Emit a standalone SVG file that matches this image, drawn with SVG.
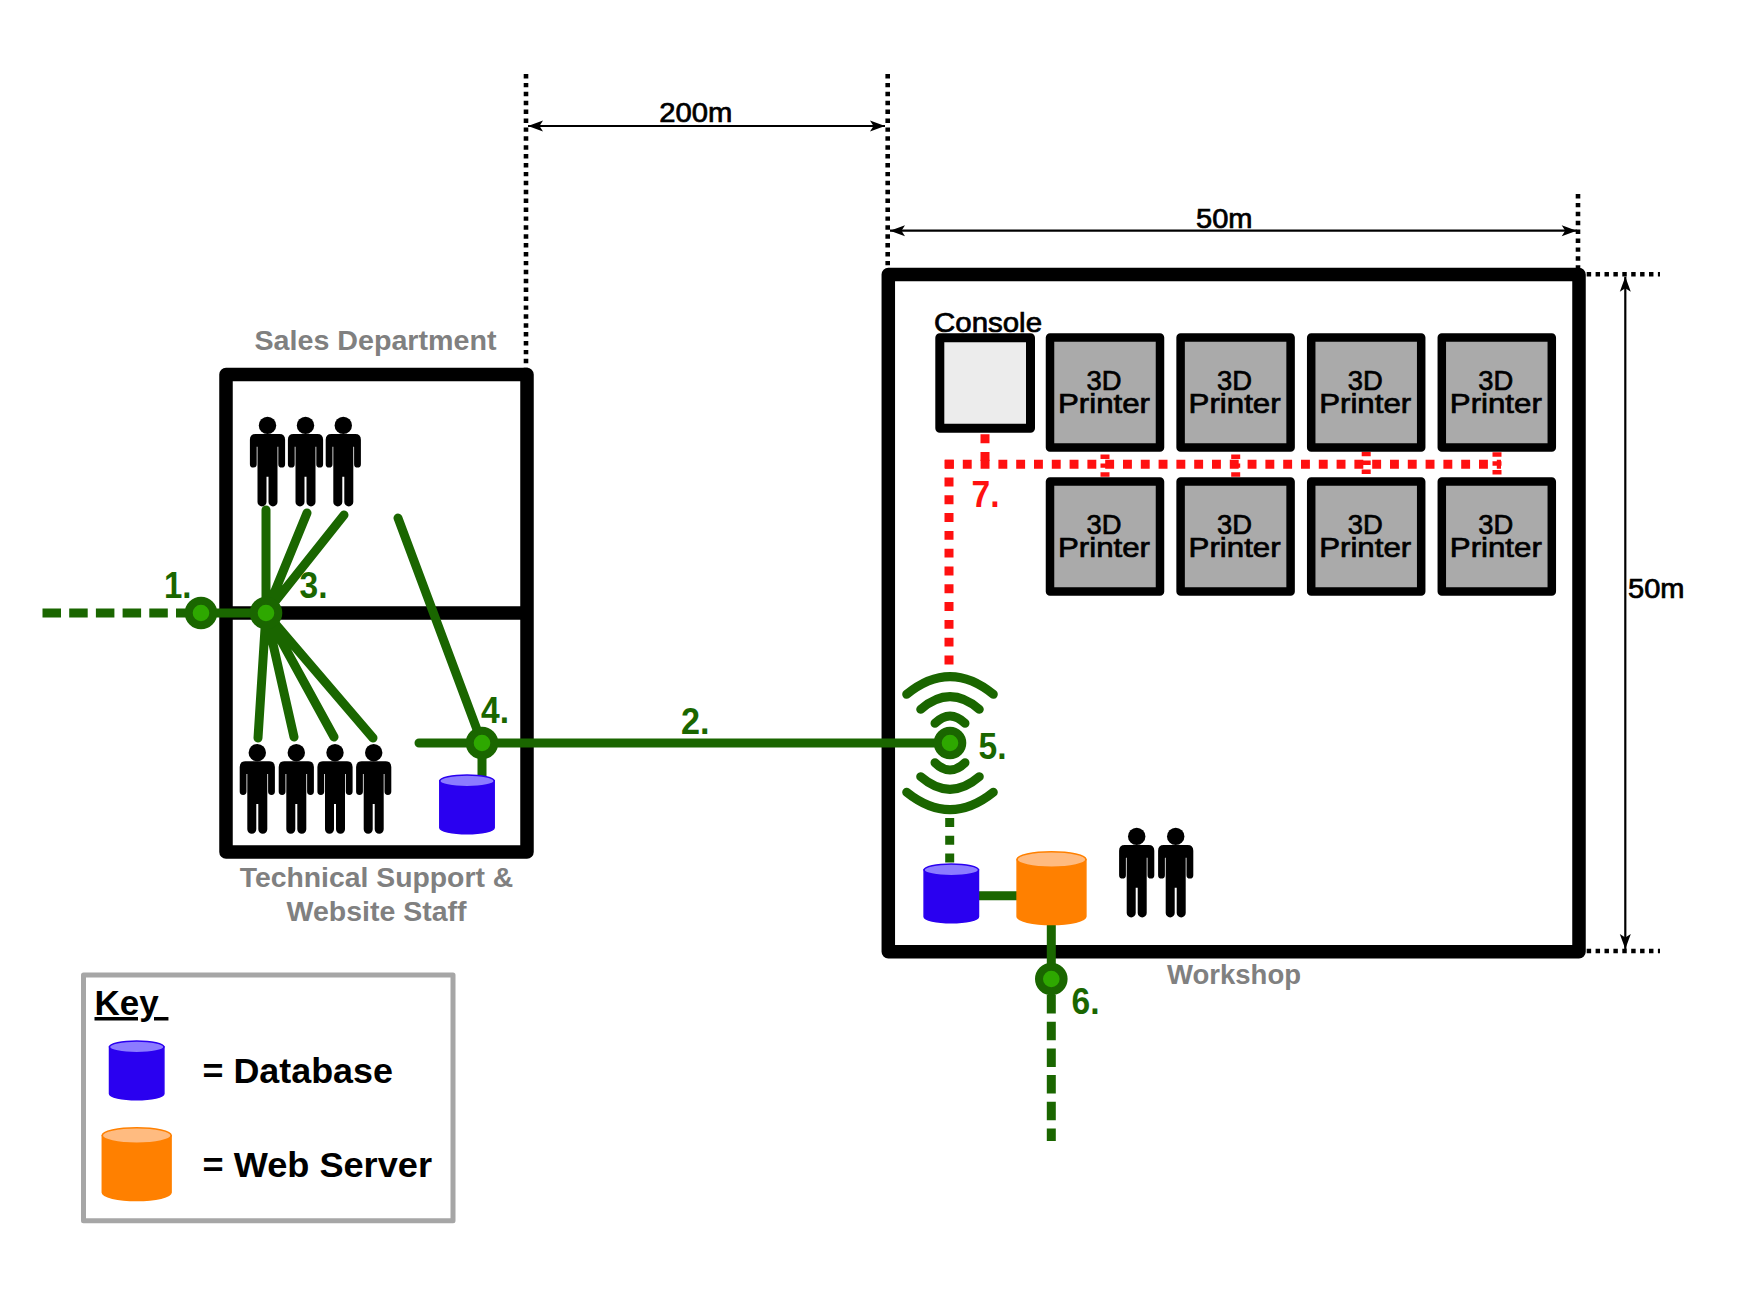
<svg xmlns="http://www.w3.org/2000/svg" xmlns:xlink="http://www.w3.org/1999/xlink" width="1755" height="1314" viewBox="0 0 1755 1314">
<style>
text{font-family:"Liberation Sans",Arial,sans-serif}
.wall{fill:none;stroke:#000;stroke-width:13.5;stroke-linejoin:round}
.pr{fill:#aaa;stroke:#000;stroke-width:8.5;stroke-linejoin:round}
.g{fill:none;stroke:#1a6600;stroke-width:9;stroke-linecap:round}
.gb{fill:none;stroke:#1a6600;stroke-width:9}
.gd{fill:none;stroke:#1a6600;stroke-width:9;stroke-dasharray:18.5 8.2}
.gs{fill:none;stroke:#1a6600;stroke-width:9;stroke-dasharray:8.9 8.9}
.r{fill:none;stroke:#ff1010;stroke-width:9;stroke-dasharray:8.9 8.9}
.rb{fill:none;stroke:#ff1010;stroke-width:9;stroke-dasharray:4.45 4.45}
.dot{fill:none;stroke:#000;stroke-width:4.6;stroke-dasharray:4.45 4.45}
.dim{fill:none;stroke:#000;stroke-width:2.2;marker-start:url(#ah);marker-end:url(#ah)}
.c{fill:#2ea800;stroke:#1a6600;stroke-width:8}
.num{fill:#1a6600;font-size:37px;font-weight:bold}
.gl{fill:#808080;font-size:28px;font-weight:bold;text-anchor:middle}
.bk{fill:#000;font-size:27px;stroke:#000;stroke-width:.7}
.p3{fill:#000;font-size:27px;stroke:#000;stroke-width:.7;text-anchor:middle}
.kt{fill:#000;font-size:35px;font-weight:bold}
</style>
<defs>
<marker id="ah" viewBox="-16 -7 17 14" refX="0" refY="0" markerWidth="17" markerHeight="14" markerUnits="userSpaceOnUse" orient="auto-start-reverse"><path d="M-15,-5.5L0,0L-15,5.5L-11.5,0Z" fill="#000"/></marker>
<symbol id="person" overflow="visible" viewBox="0 0 1 1" width="1" height="1">
<circle cx="0" cy="8.7" r="8.7" fill="#000"/>
<path fill="#000" d="M-12,17.3H12Q17.6,17.3 17.6,23V47.5A3.4,3.4 0 0 1 10.8,47.5V30H10V85.2A4.5,4.5 0 0 1 1,85.2V60H-1V85.2A4.5,4.5 0 0 1 -10,85.2V30H-10.8V47.5A3.4,3.4 0 0 1 -17.6,47.5V23Q-17.6,17.3 -12,17.3Z"/>
</symbol>
<g id="cylB"><path d="M0.8,6.5V53.5A27.2,6 0 0 0 55.2,53.5V6.5Z" fill="#2a00f0" stroke="#2a00f0" stroke-width="1.5"/><ellipse cx="28" cy="6.6" rx="27.2" ry="5.9" fill="#8c7cff" stroke="#2a00f0" stroke-width="1.5"/></g>
<g id="cylO"><path d="M0.8,8.5V65.5A34.4,8 0 0 0 69.6,65.5V8.5Z" fill="#ff8000" stroke="#ff8000" stroke-width="1.5"/><ellipse cx="35.2" cy="8.5" rx="34.4" ry="7.7" fill="#ffbb80" stroke="#ff8000" stroke-width="1.5"/></g>
</defs>
<rect width="1755" height="1314" fill="#fff"/>

<g id="sales-building">
<path class="wall" d="M226,374.5H527V852H226ZM226,613H527"/>
</g>
<g id="workshop-building">
<rect class="wall" x="888.3" y="274.6" width="690.7" height="677.2"/>
</g>

<g id="connectors">
<path class="dot" d="M526,74V368M887.7,74V268M1578,194V268M1586.7,274.3H1660M1586.7,951H1660"/>
<path class="dim" d="M528,126H885"/>
<path class="dim" d="M890,230.7H1576.7"/>
<path class="dim" d="M1625.3,276.7V949"/>
<path class="r" d="M945,464.3H1501"/>
<path class="r" d="M949,459.7V665"/>
<path class="r" d="M985,434.3V466"/>
<path class="rb" d="M1105,454.5V477M1235.7,454.5V477"/>
<path class="rb" d="M1366.2,451.7V477M1497,452.3V476"/>
<path class="gd" d="M42.5,613H190"/>
<path class="gb" d="M190,613H266"/>
<path class="g" d="M266,613V510M266,613L307,513M266,613L344,515M266,613L258,738M266,613L294,737M266,613L334,737M266,613L373,738"/>
<path class="g" d="M398,518L482,743M419,743H950M482,743V780"/>
<path class="gs" d="M949.7,818V866"/>
<path class="gb" d="M978,895.7H1018M1051.3,920V979"/>
<path class="gd" d="M1051.3,995V1141"/>
<path class="g" d="M906.7,694.3Q950,659 993.3,694.3M920.7,709.3Q950,684 979.3,709.3M935,723.3Q950,708.7 965,723.3M935,762.7Q950,777.3 965,762.7M920.7,776.7Q950,802 979.3,776.7M906.7,792.3Q950,827 993.3,792.3"/>
</g>

<g id="console">
<rect x="939.8" y="337.8" width="90.7" height="90.4" fill="#ececec" stroke="#000" stroke-width="9" stroke-linejoin="round"/>
<text class="bk" x="934" y="331.7" textLength="108" lengthAdjust="spacingAndGlyphs">Console</text>
</g>
<g id="printer-1"><rect class="pr" x="1050" y="337.5" width="110" height="110"/><text class="p3" x="1104" y="390" textLength="35" lengthAdjust="spacingAndGlyphs">3D</text><text class="p3" x="1104" y="413" textLength="92" lengthAdjust="spacingAndGlyphs">Printer</text></g>
<g id="printer-2"><rect class="pr" x="1180.6" y="337.5" width="110" height="110"/><text class="p3" x="1234.6" y="390" textLength="35" lengthAdjust="spacingAndGlyphs">3D</text><text class="p3" x="1234.6" y="413" textLength="92" lengthAdjust="spacingAndGlyphs">Printer</text></g>
<g id="printer-3"><rect class="pr" x="1311.2" y="337.5" width="110" height="110"/><text class="p3" x="1365.2" y="390" textLength="35" lengthAdjust="spacingAndGlyphs">3D</text><text class="p3" x="1365.2" y="413" textLength="92" lengthAdjust="spacingAndGlyphs">Printer</text></g>
<g id="printer-4"><rect class="pr" x="1441.8" y="337.5" width="110" height="110"/><text class="p3" x="1495.8" y="390" textLength="35" lengthAdjust="spacingAndGlyphs">3D</text><text class="p3" x="1495.8" y="413" textLength="92" lengthAdjust="spacingAndGlyphs">Printer</text></g>
<g id="printer-5"><rect class="pr" x="1050" y="481.5" width="110" height="110"/><text class="p3" x="1104" y="534" textLength="35" lengthAdjust="spacingAndGlyphs">3D</text><text class="p3" x="1104" y="557" textLength="92" lengthAdjust="spacingAndGlyphs">Printer</text></g>
<g id="printer-6"><rect class="pr" x="1180.6" y="481.5" width="110" height="110"/><text class="p3" x="1234.6" y="534" textLength="35" lengthAdjust="spacingAndGlyphs">3D</text><text class="p3" x="1234.6" y="557" textLength="92" lengthAdjust="spacingAndGlyphs">Printer</text></g>
<g id="printer-7"><rect class="pr" x="1311.2" y="481.5" width="110" height="110"/><text class="p3" x="1365.2" y="534" textLength="35" lengthAdjust="spacingAndGlyphs">3D</text><text class="p3" x="1365.2" y="557" textLength="92" lengthAdjust="spacingAndGlyphs">Printer</text></g>
<g id="printer-8"><rect class="pr" x="1441.8" y="481.5" width="110" height="110"/><text class="p3" x="1495.8" y="534" textLength="35" lengthAdjust="spacingAndGlyphs">3D</text><text class="p3" x="1495.8" y="557" textLength="92" lengthAdjust="spacingAndGlyphs">Printer</text></g>

<g id="sales-staff"><use href="#person" x="267.5" y="416.7"/><use href="#person" x="305.5" y="416.7"/><use href="#person" x="343.3" y="416.7"/></g>
<g id="tech-staff"><use href="#person" x="257.3" y="744"/><use href="#person" x="296.3" y="744"/><use href="#person" x="335" y="744"/><use href="#person" x="373.7" y="744"/></g>
<g id="workshop-staff"><use href="#person" x="1136.7" y="827.7"/><use href="#person" x="1175.7" y="827.7"/></g>

<g id="db-sales"><use href="#cylB" x="439" y="774.3"/></g>
<g id="db-workshop"><use href="#cylB" x="923.3" y="863.3"/></g>
<g id="web-server"><use href="#cylO" x="1016.3" y="851"/></g>

<g id="junction-1"><circle class="c" cx="201" cy="613" r="12.3"/><text class="num" x="164" y="598.3" textLength="27.5" lengthAdjust="spacingAndGlyphs">1.</text></g>
<g id="junction-3"><circle class="c" cx="266" cy="613" r="12.3"/><text class="num" x="299.5" y="598.3" textLength="28" lengthAdjust="spacingAndGlyphs">3.</text></g>
<g id="junction-4"><circle class="c" cx="482" cy="743" r="12.3"/><text class="num" x="481" y="723.3" textLength="28" lengthAdjust="spacingAndGlyphs">4.</text></g>
<g id="junction-5"><circle class="c" cx="950" cy="743" r="12.3"/><text class="num" x="978.5" y="758.7" textLength="28" lengthAdjust="spacingAndGlyphs">5.</text></g>
<g id="junction-6"><circle class="c" cx="1051.3" cy="979" r="12.3"/><text class="num" x="1071.5" y="1014" textLength="28" lengthAdjust="spacingAndGlyphs">6.</text></g>

<g id="labels">
<text class="num" x="681" y="734" textLength="28.5" lengthAdjust="spacingAndGlyphs">2.</text>
<text class="num" x="971.5" y="506.7" textLength="28" lengthAdjust="spacingAndGlyphs" style="fill:#ff1010">7.</text>
<text class="gl" x="375.5" y="350" textLength="242" lengthAdjust="spacingAndGlyphs">Sales Department</text>
<text class="gl" x="376.5" y="886.7" textLength="273.5" lengthAdjust="spacingAndGlyphs">Technical Support &amp;</text>
<text class="gl" x="376.5" y="921" textLength="180" lengthAdjust="spacingAndGlyphs">Website Staff</text>
<text class="gl" x="1234" y="983.6" textLength="134" lengthAdjust="spacingAndGlyphs">Workshop</text>
<text class="bk" x="659.3" y="121.7" textLength="73" lengthAdjust="spacingAndGlyphs">200m</text>
<text class="bk" x="1196" y="228" textLength="56.5" lengthAdjust="spacingAndGlyphs">50m</text>
<text class="bk" x="1628" y="597.5" textLength="56.5" lengthAdjust="spacingAndGlyphs">50m</text>
</g>

<g id="key">
<rect x="83.5" y="975" width="369.5" height="245.8" fill="#fff" stroke="#a6a6a6" stroke-width="5" stroke-linejoin="round"/>
<text class="kt" x="94.5" y="1015" style="white-space:pre;text-decoration:underline">Key </text>
<use href="#cylB" x="108.7" y="1040.3"/>
<use href="#cylO" x="101.5" y="1127"/>
<text class="kt" x="202.5" y="1082.7" textLength="190.5" lengthAdjust="spacingAndGlyphs">= Database</text>
<text class="kt" x="202.5" y="1176.7" textLength="229.5" lengthAdjust="spacingAndGlyphs">= Web Server</text>
</g>
</svg>
